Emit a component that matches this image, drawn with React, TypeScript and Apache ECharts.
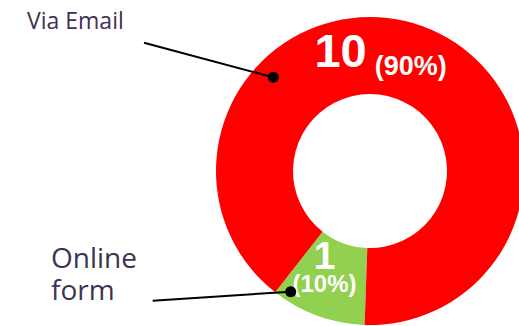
import React, { useEffect, useRef } from "react";
import * as echarts from "echarts";

const categories = ["Online form", "Via Email"];
const counts = [1, 10];
const percents = [10, 90];
const colors = ["#92D050", "#FF0000"];

export default function App() {
  const ref = useRef<HTMLDivElement>(null);
  useEffect(() => {
    if (!ref.current) return;
    const chart = echarts.init(ref.current, undefined, { renderer: "svg" });
    const data = categories.map((name, i) => ({
      name,
      value: percents[i],
      count: counts[i],
      itemStyle: { color: colors[i] },
    }));
    const labelFont = "Liberation Sans, Arial, sans-serif";
    chart.setOption({
      animation: false,
      backgroundColor: "#ffffff",
      series: [
        {
          type: "pie",
          center: [370, 171],
          radius: [77, 154],
          startAngle: 268,
          clockwise: true,
          silent: true,
          z: 2,
          data,
          itemStyle: { borderWidth: 0 },
          label: {
            show: true,
            position: "inside",
            color: "#ffffff",
            fontFamily: labelFont,
            fontWeight: "bold",
            formatter: (p: any) => {
              const i = p.dataIndex;
              if (counts[i] >= 10) {
                return `{a|${counts[i]}}{b|(${percents[i]}%)}`;
              }
              return `{c|${counts[i]}}\n{d|(${percents[i]}%)}`;
            },
            rich: {
              a: { fontSize: 47, lineHeight: 50, fontWeight: "bold", color: "#fff", fontFamily: labelFont },
              b: { fontSize: 27, lineHeight: 27, fontWeight: "bold", color: "#fff", fontFamily: labelFont, padding: [30, 0, 0, 8] },
              c: { fontSize: 39, lineHeight: 30, fontWeight: "bold", color: "#fff", fontFamily: labelFont },
              d: { fontSize: 24, lineHeight: 26, fontWeight: "bold", color: "#fff", fontFamily: labelFont },
            },
          },
          labelLine: { show: false },
          labelLayout: (p: any) => {
            if (p.dataIndex === 1) return { dx: -30, dy: -9 };
            return { dx: -5, dy: -14 };
          },
        },
      ],
      graphic: [
        {
          type: "text",
          z: 10,
          style: {
            text: categories[1],
            x: 27,
            y: 19.7,
            font: "23px 'Open Sans', sans-serif",
            fill: "#3F3151",
            verticalAlign: "middle",
          },
        },
        {
          type: "text",
          z: 10,
          style: {
            text: categories[0].replace(" ", "\n"),
            x: 51,
            y: 241,
            font: "28px 'Open Sans', sans-serif",
            lineHeight: 32,
            fill: "#3F3151",
            verticalAlign: "top",
          },
        },
        {
          type: "line",
          z: 10,
          shape: { x1: 144, y1: 42.7, x2: 273.3, y2: 77.3 },
          style: { stroke: "#000", lineWidth: 2 },
        },
        { type: "circle", z: 10, shape: { cx: 273.3, cy: 77.3, r: 5.5 }, style: { fill: "#000" } },
        {
          type: "line",
          z: 10,
          shape: { x1: 152.7, y1: 300.7, x2: 290.7, y2: 291.7 },
          style: { stroke: "#000", lineWidth: 2 },
        },
        { type: "circle", z: 10, shape: { cx: 290.7, cy: 291.7, r: 5.5 }, style: { fill: "#000" } },
      ],
    });
    return () => chart.dispose();
  }, []);
  return (
    <div
      ref={ref}
      style={{ position: "fixed", left: 0, top: 0, width: 519, height: 326 }}
    />
  );
}
